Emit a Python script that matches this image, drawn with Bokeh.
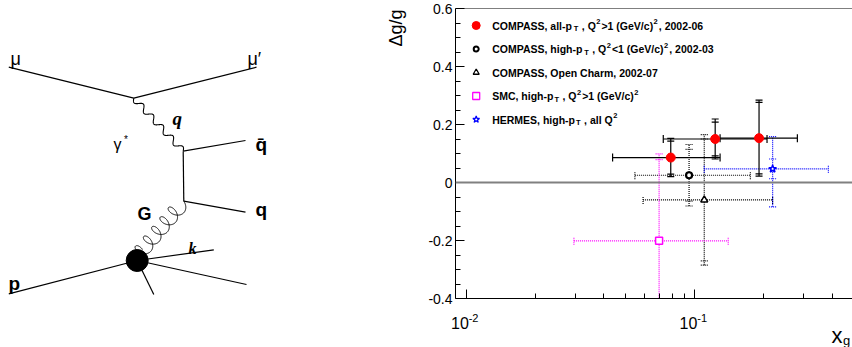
import numpy as np
from math import pi, log10
from bokeh.plotting import figure
from bokeh.layouts import row, column
from bokeh.models import Range1d, FixedTicker, Span, Label, Spacer
from bokeh.embed import file_html
from bokeh.resources import INLINE

# ----------------------------- data ---------------------------------
# COMPASS, all-pT, Q2>1 (GeV/c)^2, 2002-06  (solid error bars)
compass_x = [0.0785, 0.1228, 0.191]
compass_y = [0.086, 0.150, 0.153]
compass_xlo = [0.0437, 0.0728, 0.129]
compass_xhi = [0.129, 0.207, 0.281]
compass_stat = [0.057, 0.058, 0.123]
compass_tot = [0.066, 0.069, 0.131]

# COMPASS, high-pT, Q2<1 (GeV/c)^2, 2002-03
hipt_x = [0.0944]
hipt_y = [0.025]
hipt_xlo = [0.0547]
hipt_xhi = [0.175]
hipt_stat = [0.089]
hipt_up = [0.106]
hipt_dn = [0.106]

# COMPASS, Open Charm, 2002-07
charm_x = [0.110]
charm_y = [-0.060]
charm_xlo = [0.0594]
charm_xhi = [0.219]
charm_stat = [0.21]
charm_up = [0.225]
charm_dn = [0.225]

# SMC, high-pT, Q2>1
smc_x = [0.0698]
smc_y = [-0.201]
smc_xlo = [0.0296]
smc_xhi = [0.140]
smc_stat = [0.28]
smc_up = [0.30]
smc_dn = [0.30]

# HERMES, high-pT, all Q2
hermes_x = [0.219]
hermes_y = [0.047]
hermes_xlo = [0.110]
hermes_xhi = [0.384]
hermes_stat = [0.034]
hermes_up = [0.111]
hermes_dn = [0.131]

y_major = [-0.4, -0.2, 0.0, 0.2, 0.4, 0.6]
y_major_labels = ["-0.4", "-0.2", "0", "0.2", "0.4", "0.6"]
y_minor = [-0.35, -0.3, -0.25, -0.15, -0.1, -0.05, 0.05, 0.1, 0.15,
           0.25, 0.3, 0.35, 0.45, 0.5, 0.55]
x_major = [0.01, 0.1]
x_minor = [0.02, 0.03, 0.04, 0.05, 0.06, 0.07, 0.08, 0.09, 0.2, 0.3, 0.4]
x_major_base = ["10", "10"]
x_major_exp = ["-2", "-1"]

legend_rows = [
    [("COMPASS, all-p", "n"), ("T", "sub"), (", Q", "n"), ("2", "sup"),
     (">1 (GeV/c)", "n"), ("2", "sup"), (", 2002-06", "n")],
    [("COMPASS, high-p", "n"), ("T", "sub"), (", Q", "n"), ("2", "sup"),
     ("<1 (GeV/c)", "n"), ("2", "sup"), (", 2002-03", "n")],
    [("COMPASS, Open Charm, 2002-07", "n")],
    [("SMC, high-p", "n"), ("T", "sub"), (", Q", "n"), ("2", "sup"),
     (">1 (GeV/c)", "n"), ("2", "sup")],
    [("HERMES, high-p", "n"), ("T", "sub"), (", all Q", "n"), ("2", "sup")],
]
legend_page_y = [25, 48.5, 72, 95.5, 119]

# ----------------------- Feynman diagram geometry --------------------
diag_x0 = [8.3, 133.3, 182.7, 182.7, 183.3, 8.3, 136.7, 136.7, 136.7]
diag_y0 = [66.7, 97.7, 150.7, 150.7, 200.7, 293.3, 260.0, 260.0, 260.0]
diag_x1 = [133.3, 256.0, 245.0, 183.3, 245.0, 136.7, 213.3, 246.0, 153.3]
diag_y1 = [97.7, 66.7, 140.0, 200.7, 211.7, 260.0, 249.3, 284.0, 294.0]
photon_ends = [(133.3, 97.7), (182.7, 150.7)]
gluon_ends = [(183.3, 200.7), (142.0, 249.0)]
blob_xy = (136.7, 260.0)

# ---------------------------- layout --------------------------------
H = 347
TOP_H = 307          # height of the row holding diagram + plot
DIAG_W = 420
PLOT_W = 852 - DIAG_W
BORDER_L, BORDER_T, BORDER_B = 35, 8, 9
FRAME_W = PLOT_W - BORDER_L
FRAME_H = TOP_H - BORDER_T - BORDER_B
X0, X1 = 0.00898, 0.4896
FONT = "Liberation Sans"

# ---------------------------- diagram -------------------------------
# (page-pixel coordinates; its frame is aligned with the plot frame)
d = figure(width=DIAG_W, height=TOP_H, x_range=Range1d(0, DIAG_W),
           y_range=Range1d(TOP_H - BORDER_B, BORDER_T), output_backend="svg",
           toolbar_location=None, min_border_left=0, min_border_right=0,
           min_border_top=BORDER_T, min_border_bottom=BORDER_B)
d.axis.visible = False
d.grid.visible = False
d.outline_line_color = None

d.segment(x0=diag_x0, y0=diag_y0, x1=diag_x1, y1=diag_y1,
          line_color="black", line_width=1.2)


def wavy(a, b, n_waves, amp, npts=400):
    a = np.array(a); b = np.array(b)
    dv = b - a
    L = np.hypot(*dv)
    u = dv / L
    nrm = np.array([-u[1], u[0]])
    t = np.linspace(0, 1, npts)
    pts = a[None, :] + np.outer(t, dv) + np.outer(amp * np.sin(2 * np.pi * n_waves * t), nrm)
    return pts[:, 0], pts[:, 1]


def coil(a, b, n_loops, r, npts=800):
    a = np.array(a); b = np.array(b)
    dv = b - a
    L = np.hypot(*dv)
    u = dv / L
    nrm = np.array([u[1], -u[0]])
    th = np.linspace(0, 2 * np.pi * n_loops, npts)
    c = L / (2 * np.pi * n_loops)
    along = c * th + 0.7 * r * (1 - np.cos(th))
    perp = r * np.sin(th)
    pts = a[None, :] + np.outer(along, u) + np.outer(perp, nrm)
    return pts[:, 0], pts[:, 1]


wx, wy = wavy(photon_ends[0], photon_ends[1], 5, 3.0)
d.line(wx, wy, line_color="black", line_width=1.1)
gx, gy = coil(gluon_ends[0], gluon_ends[1], 5, 7.5)
d.line(gx, gy, line_color="black", line_width=1.0)
d.scatter([blob_xy[0]], [blob_xy[1]], marker="circle", size=22,
          fill_color="black", line_color="black")

diag_labels = [
    ("μ", 10, 58, FONT, "normal", "18px"),
    ("μ′", 247, 58, FONT, "normal", "18px"),
    ("γ", 113, 144, FONT, "normal", "16px"),
    ("*", 123.5, 139, FONT, "normal", "10px"),
    ("q", 172, 118, "Liberation Serif", "bold italic", "19px"),
    ("q\u0304", 255, 144, FONT, "bold", "19px"),
    ("q", 255, 209, FONT, "bold", "19px"),
    ("G", 137, 213, FONT, "bold", "18px"),
    ("k", 188, 248, "Liberation Serif", "bold italic", "16px"),
    ("p", 8, 283, FONT, "bold", "19px"),
]
for txt, lx, ly, fnt, sty, sz in diag_labels:
    d.add_layout(Label(x=lx, y=ly, text=txt, text_font=fnt, text_font_style=sty,
                       text_font_size=sz, text_align="left",
                       text_baseline="alphabetic", text_color="black"))

# y-axis title of the plot (lies left of the plot's frame, so it is drawn here)
d.add_layout(Label(x=395, y=9, text="Δg/g", angle=pi / 2, text_font=FONT,
                   text_font_size="18px", text_align="right",
                   text_baseline="middle", text_color="black"))

# ----------------------------- plot ---------------------------------
p = figure(width=PLOT_W, height=TOP_H, x_axis_type="log",
           x_range=Range1d(X0, X1), y_range=Range1d(-0.4, 0.6),
           output_backend="svg", toolbar_location=None,
           min_border_left=BORDER_L, min_border_right=0,
           min_border_top=BORDER_T, min_border_bottom=BORDER_B)
p.outline_line_color = None
p.grid.visible = False
p.background_fill_color = "white"

yax = p.yaxis[0]
yax.ticker = FixedTicker(ticks=y_major, minor_ticks=y_minor)
yax.major_tick_in = 9
yax.major_tick_out = 0
yax.minor_tick_in = 5
yax.minor_tick_out = 0
yax.major_label_standoff = 3
yax.major_label_text_font = FONT
yax.major_label_text_font_size = "14px"
yax.major_label_text_color = "black"
yax.axis_line_color = "black"
yax.major_label_overrides = dict(zip(y_major, y_major_labels))

xax = p.xaxis[0]
xax.ticker = FixedTicker(ticks=x_major, minor_ticks=x_minor)
xax.major_tick_in = 9
xax.major_tick_out = 0
xax.minor_tick_in = 5
xax.minor_tick_out = 0
xax.major_label_standoff = 0
xax.major_label_text_font_size = "1px"
xax.major_label_text_alpha = 0.0
xax.axis_line_color = "black"

p.add_layout(Span(location=0.0, dimension="width", line_color="#808080", line_width=2))
p.add_layout(Span(location=0.6, dimension="width", line_color="black", line_width=1))


def draw_set(xs, ys, xlo, xhi, stat, up, dn, color, dash, marker, msize,
             fill, mline, mlw):
    xs = np.array(xs); ys = np.array(ys)
    stat = np.array(stat); up = np.array(up); dn = np.array(dn)
    p.segment(x0=xlo, y0=ys, x1=xhi, y1=ys, line_color=color,
              line_dash=dash, line_width=1.2)
    p.segment(x0=xs, y0=ys - dn, x1=xs, y1=ys + up, line_color=color,
              line_dash=dash, line_width=1.2)
    # horizontal end caps
    p.scatter(list(xlo) + list(xhi), list(ys) + list(ys), marker="dash",
              angle=pi / 2, size=8, line_color=color, line_width=1.2,
              line_dash=dash)
    # vertical caps: total and stat
    capx = list(xs) * 4
    capy = list(ys + up) + list(ys - dn) + list(ys + stat) + list(ys - stat)
    p.scatter(capx, capy, marker="dash", size=7, line_color=color,
              line_width=1.2, line_dash=dash)
    p.scatter(xs, ys, marker=marker, size=msize, fill_color=fill,
              line_color=mline, line_width=mlw)


draw_set(hipt_x, hipt_y, hipt_xlo, hipt_xhi, hipt_stat, hipt_up, hipt_dn,
         "black", "1 1", "circle", 6, "white", "black", 2.2)
draw_set(charm_x, charm_y, charm_xlo, charm_xhi, charm_stat, charm_up, charm_dn,
         "black", "1 1", "triangle", 7, "white", "black", 1.5)
draw_set(smc_x, smc_y, smc_xlo, smc_xhi, smc_stat, smc_up, smc_dn,
         "#ff00ff", "1 1", "square", 7, "white", "#ff00ff", 1.5)
draw_set(hermes_x, hermes_y, hermes_xlo, hermes_xhi, hermes_stat, hermes_up,
         hermes_dn, "#0000ff", "1 1", "star", 8, "white", "#0000ff", 1.5)
draw_set(compass_x, compass_y, compass_xlo, compass_xhi, compass_stat,
         compass_tot, compass_tot, "black", "solid", "circle", 9, "red", "red",
         1.0)

# ------------------------------ legend -------------------------------
HB = {' ': 278, ',': 278, '-': 333, '/': 278, '(': 333, ')': 333, '<': 584,
      '>': 584, 'A': 722, 'C': 722, 'E': 667, 'G': 778, 'H': 722, 'M': 833,
      'O': 778, 'P': 667, 'Q': 778, 'R': 722, 'S': 667, 'T': 611, 'V': 667,
      'a': 556, 'c': 556, 'e': 556, 'g': 611, 'h': 611, 'i': 278, 'l': 278,
      'm': 889, 'n': 611, 'p': 611, 'r': 389}


def text_w(s, size):
    return sum(HB.get(ch, 556) for ch in s) * size / 1000.0


LEG_FS, LEG_SMALL = 10.5, 7.5
MARK_DX, TEXT_DX = 20.7, 36.7
GAP_BEFORE = {"n": 0.0, "sub": 1.0, "sup": 0.5}
GAP_AFTER = {"n": 0.0, "sub": 3.5, "sup": 1.0}
leg_markers = ["circle", "circle", "triangle", "square", "star"]
leg_fill = ["red", "white", "white", "white", "white"]
leg_line = ["red", "black", "black", "#ff00ff", "#0000ff"]
leg_size = [8, 5, 6, 7, 7]
leg_lw = [1.0, 2.0, 1.3, 1.3, 1.3]

lx0, lx1 = log10(X0), log10(X1)
mk_x = 10 ** (lx0 + MARK_DX / FRAME_W * (lx1 - lx0))
for i, segs in enumerate(legend_rows):
    dy = legend_page_y[i] - BORDER_T
    mk_y = 0.6 - dy / FRAME_H * 1.0
    p.scatter([mk_x], [mk_y], marker=leg_markers[i], size=leg_size[i],
              fill_color=leg_fill[i], line_color=leg_line[i], line_width=leg_lw[i])
    xo = TEXT_DX
    for s_txt, kind in segs:
        fs = LEG_FS if kind == "n" else LEG_SMALL
        yo = {"n": 0.0, "sub": -3.0, "sup": 4.0}[kind]
        xo += GAP_BEFORE[kind]
        p.add_layout(Label(x=X0, y=0.6, x_offset=xo, y_offset=-dy + yo, text=s_txt,
                           text_font=FONT, text_font_style="bold",
                           text_font_size=f"{fs}px", text_align="left",
                           text_baseline="middle", text_color="black"))
        xo += text_w(s_txt, fs) + GAP_AFTER[kind]

# ---------------- strip below the plot: x tick labels + x title -------
per_px = (lx1 - lx0) / FRAME_W
S0 = 10 ** (lx0 - BORDER_L * per_px)      # strip frame spans the plot's full width
STRIP_H = H - TOP_H
s = figure(width=PLOT_W, height=STRIP_H, x_axis_type="log",
           x_range=Range1d(S0, X1), y_range=Range1d(H, TOP_H),
           output_backend="svg", toolbar_location=None, min_border=0)
s.axis.visible = False
s.grid.visible = False
s.outline_line_color = None

for v, b, e in zip(x_major, x_major_base, x_major_exp):
    s.add_layout(Label(x=v, y=322.5, x_offset=2.6, text=b,
                       text_font=FONT, text_font_size="16px", text_align="right",
                       text_baseline="alphabetic", text_color="black"))
    s.add_layout(Label(x=v, y=317.5, x_offset=2.5, text=e,
                       text_font=FONT, text_font_size="11px", text_align="left",
                       text_baseline="alphabetic", text_color="black"))

s.add_layout(Label(x=X1, y=335, x_offset=-10, text="x",
                   text_font=FONT, text_font_size="22px", text_align="right",
                   text_baseline="alphabetic", text_color="black"))
s.add_layout(Label(x=X1, y=339.5, x_offset=-9.5, text="g",
                   text_font=FONT, text_font_size="13px", text_align="left",
                   text_baseline="alphabetic", text_color="black"))

layout = column(row(d, p), row(Spacer(width=DIAG_W, height=STRIP_H), s))
open("out.html", "w").write(file_html(layout, INLINE))
